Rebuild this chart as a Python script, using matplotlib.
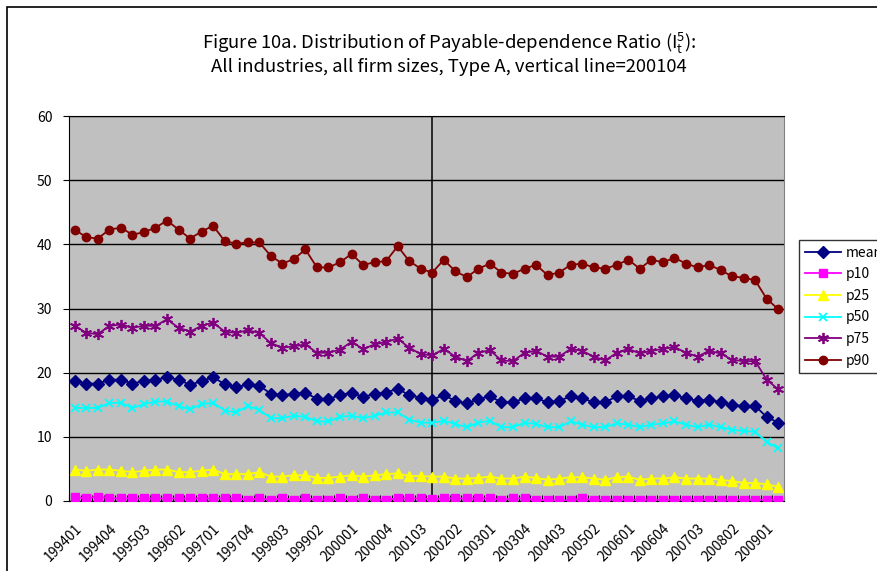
import numpy as np
import matplotlib
matplotlib.use('Agg')
import matplotlib.pyplot as plt
import matplotlib.transforms as mtransforms
from matplotlib.patches import Rectangle

plt.rcParams['font.family'] = ['Noto Sans CJK JP', 'DejaVu Sans']

# Quarter labels 199401 .. 200902 (62 quarters)
quarters = [f'{y}{q:02d}' for y in range(1994, 2010) for q in range(1, 5)][:62]

mean = [18.7, 18.3, 18.3, 18.9, 18.9, 18.3, 18.7, 18.9, 19.3, 18.9,
        18.1, 18.7, 19.3, 18.2, 17.7, 18.2, 18.0, 16.7, 16.5, 16.7,
        16.9, 15.9, 15.9, 16.5, 16.9, 16.2, 16.7, 16.9, 17.5, 16.5,
        16.1, 15.8, 16.5, 15.6, 15.2, 15.9, 16.3, 15.4, 15.4, 16.0,
        16.0, 15.4, 15.6, 16.3, 16.0, 15.4, 15.4, 16.3, 16.3, 15.6,
        16.0, 16.3, 16.5, 16.0, 15.6, 15.8, 15.4, 15.0, 14.8, 14.8,
        13.1, 12.2]
p10 = [0.6, 0.4, 0.7, 0.4, 0.4, 0.4, 0.4, 0.4, 0.4, 0.4,
       0.4, 0.4, 0.4, 0.4, 0.4, 0.2, 0.4, 0.2, 0.4, 0.2,
       0.4, 0.2, 0.2, 0.4, 0.2, 0.4, 0.2, 0.2, 0.4, 0.4,
       0.4, 0.3, 0.4, 0.4, 0.4, 0.4, 0.4, 0.2, 0.4, 0.4,
       0.2, 0.1, 0.1, 0.1, 0.4, 0.1, 0.2, 0.2, 0.2, 0.2,
       0.2, 0.2, 0.2, 0.2, 0.2, 0.2, 0.2, 0.2, 0.2, 0.2,
       0.2, 0.2]
p25 = [4.9, 4.7, 4.9, 4.9, 4.7, 4.5, 4.7, 4.9, 4.9, 4.5,
       4.5, 4.7, 4.9, 4.2, 4.2, 4.2, 4.5, 3.8, 3.8, 4.0,
       4.0, 3.6, 3.6, 3.8, 4.0, 3.8, 4.0, 4.2, 4.3, 3.9,
       3.9, 3.8, 3.8, 3.5, 3.5, 3.6, 3.8, 3.5, 3.5, 3.8,
       3.6, 3.3, 3.5, 3.7, 3.7, 3.5, 3.3, 3.7, 3.8, 3.3,
       3.5, 3.5, 3.7, 3.5, 3.5, 3.5, 3.3, 3.1, 2.8, 2.8,
       2.6, 2.2]
p50 = [14.5, 14.5, 14.5, 15.3, 15.3, 14.5, 15.1, 15.5, 15.5, 14.8,
       14.3, 15.1, 15.3, 14.1, 13.8, 14.8, 14.2, 12.9, 12.9, 13.3,
       13.1, 12.4, 12.4, 13.1, 13.3, 12.9, 13.3, 13.8, 13.8, 12.7,
       12.2, 12.2, 12.5, 12.0, 11.5, 12.2, 12.5, 11.5, 11.5, 12.2,
       12.0, 11.5, 11.5, 12.4, 11.9, 11.5, 11.5, 12.1, 11.9, 11.5,
       11.9, 12.1, 12.4, 11.9, 11.5, 11.9, 11.5, 11.1, 10.9, 10.8,
       9.2, 8.2]
p75 = [27.3, 26.2, 26.0, 27.3, 27.5, 27.0, 27.3, 27.3, 28.3, 27.0,
       26.4, 27.3, 27.8, 26.4, 26.2, 26.6, 26.2, 24.6, 23.9, 24.1,
       24.4, 23.1, 23.1, 23.6, 24.8, 23.7, 24.4, 24.8, 25.3, 23.9,
       22.9, 22.7, 23.7, 22.5, 21.8, 23.1, 23.5, 21.9, 21.8, 23.1,
       23.4, 22.5, 22.5, 23.7, 23.4, 22.5, 21.9, 23.1, 23.7, 23.0,
       23.4, 23.7, 24.0, 23.1, 22.5, 23.4, 23.0, 22.0, 21.8, 21.8,
       18.9, 17.4]
p90 = [42.3, 41.1, 40.9, 42.3, 42.6, 41.5, 41.9, 42.6, 43.7, 42.3,
       40.9, 42.0, 42.9, 40.5, 40.1, 40.3, 40.3, 38.2, 37.0, 37.7,
       39.2, 36.4, 36.4, 37.2, 38.5, 36.8, 37.2, 37.4, 39.7, 37.4,
       36.2, 35.6, 37.6, 35.8, 34.9, 36.2, 37.0, 35.6, 35.4, 36.2,
       36.8, 35.2, 35.6, 36.8, 37.0, 36.4, 36.2, 36.8, 37.6, 36.2,
       37.6, 37.2, 37.9, 37.0, 36.4, 36.8, 36.0, 35.0, 34.8, 34.4,
       31.5, 29.9]

vline_quarter = '200104'

SERIES = [
    ('mean', mean, '#000080', 'D', 6),
    ('p10', p10, '#FF00FF', 's', 6),
    ('p25', p25, '#FFFF00', '^', 7),
    ('p50', p50, '#00FFFF', 'x', 6),
    ('p75', p75, '#800080', (6, 2, 0), 8),
    ('p90', p90, '#800000', 'o', 6),
]

fig = plt.figure(figsize=(8.78, 5.71), dpi=100)
# chart area border (right/bottom edges fall outside the picture)
fig.patches.append(Rectangle((7 / 878, -0.1), 1.2, 1 - 7 / 571 + 0.1,
                             transform=fig.transFigure, fill=False,
                             edgecolor='black', linewidth=1.2))

ax = fig.add_axes([69 / 878, 70 / 571, 715 / 878, 385 / 571])
ax.set_facecolor('#C0C0C0')

x = np.arange(len(quarters))
for name, vals, color, marker, ms in SERIES:
    mew = 1.3 if marker in ('x', (6, 2, 0)) else 1.0
    ax.plot(x, vals, color=color, linewidth=1.3, marker=marker,
            markersize=ms, markeredgewidth=mew, markeredgecolor=color,
            markerfacecolor=color, label=name, zorder=3)

ax.axvline(quarters.index(vline_quarter), color='black', linewidth=1.1, zorder=2)

ax.set_xlim(-0.5, len(quarters) - 0.5)
ax.set_ylim(0, 60)
ax.set_yticks(range(0, 61, 10))
ax.yaxis.grid(True, color='black', linewidth=1.0)
ax.set_axisbelow(True)
ax.tick_params(axis='y', direction='out', length=4, labelsize=10, pad=8)

ax.set_xticks(x[::3])
ax.set_xticklabels(quarters[::3], rotation=45, ha='right',
                   rotation_mode='anchor', fontsize=10)
shift = mtransforms.ScaledTranslation(-6 / 100, 0, fig.dpi_scale_trans)
for lab in ax.get_xticklabels():
    lab.set_transform(lab.get_transform() + shift)
ax.set_xticks(np.arange(-0.5, len(quarters), 1), minor=True)
ax.tick_params(axis='x', which='major', length=0, pad=15)
ax.tick_params(axis='x', which='minor', direction='in', length=4, width=0.8)

for side in ('left', 'bottom', 'top'):
    ax.spines[side].set_color('black')
ax.spines['right'].set_color('#808080')

leg = fig.legend(loc='upper left', bbox_to_anchor=(799 / 878, 1 - 240 / 571),
                 frameon=True, fancybox=False, edgecolor='black',
                 fontsize=10, handlelength=2.6, labelspacing=0.55,
                 borderpad=0.4, handletextpad=0.4, borderaxespad=0)
leg.get_frame().set_linewidth(1.0)

fig.text(449 / 878, 1 - 43 / 571,
         r'Figure 10a. Distribution of Payable-dependence Ratio ($\mathregular{I^{5}_{t}}$):',
         ha='center', va='center', fontsize=13.3)
fig.text(449 / 878, 1 - 67 / 571,
         'All industries, all firm sizes, Type A, vertical line=200104',
         ha='center', va='center', fontsize=13.3)

fig.savefig('out.png', dpi=100)
